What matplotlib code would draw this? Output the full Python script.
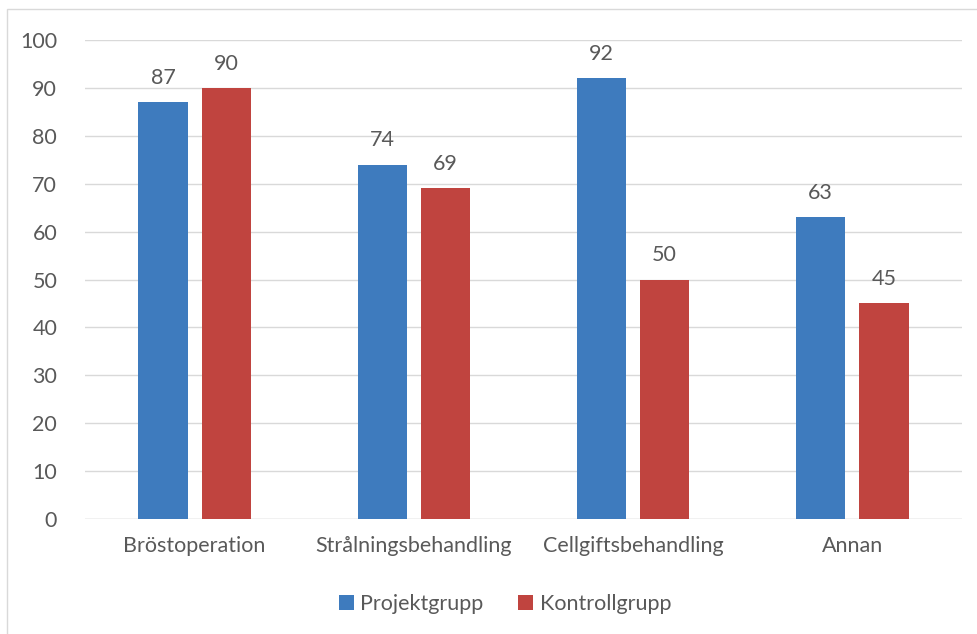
import matplotlib.pyplot as plt
import numpy as np
from matplotlib.patches import Rectangle

categories = ['Bröstoperation', 'Strålningsbehandling', 'Cellgiftsbehandling', 'Annan']
projekt = [87, 74, 92, 63]
kontroll = [90, 69, 50, 45]
yticks = [0, 10, 20, 30, 40, 50, 60, 70, 80, 90, 100]

plt.rcParams['font.family'] = ['Lato', 'DejaVu Sans']
txt = '#595959'
fs = 15.5

fig = plt.figure(figsize=(9.78, 6.34), dpi=100)
ax = fig.add_axes([85/978, 1 - 519/634, 877/978, 479/634])

# outer chart frame
fig.patches.append(Rectangle((7/978, -0.1), 1.2, 1 - 9/634 + 0.1, transform=fig.transFigure,
                             fill=False, edgecolor='#d9d9d9', linewidth=1))

x = np.arange(len(categories))
w = 0.224
off = 0.144
b1 = ax.bar(x - off, projekt, w, color='#3E7BBE', label='Projektgrupp', zorder=3)
b2 = ax.bar(x + off, kontroll, w, color='#C0443F', label='Kontrollgrupp', zorder=3)

for bars, vals in ((b1, projekt), (b2, kontroll)):
    for b, v in zip(bars, vals):
        ax.text(b.get_x() + b.get_width() / 2, v + 3.0, str(v), ha='center', va='bottom',
                fontsize=fs, color=txt)

ax.set_xlim(-0.5, len(categories) - 0.5)
ax.set_ylim(0, 100)
ax.set_yticks(yticks)
ax.set_xticks(x)
ax.set_xticklabels(categories)
ax.tick_params(axis='both', length=0, labelsize=fs, labelcolor=txt)
ax.tick_params(axis='y', pad=20)
ax.tick_params(axis='x', pad=12)
ax.yaxis.grid(True, color='#d9d9d9', linewidth=1, zorder=0)
for s in ax.spines.values():
    s.set_visible(False)
ax.axhline(0, color='#d9d9d9', linewidth=1, zorder=2)

leg = fig.legend(loc='center', bbox_to_anchor=(505/978, 1 - 604/634), ncol=2, frameon=False,
                 fontsize=fs, handlelength=0.7, handleheight=0.7, handletextpad=0.3,
                 columnspacing=1.6)
for t in leg.get_texts():
    t.set_color(txt)

fig.savefig('out.png', dpi=100)
